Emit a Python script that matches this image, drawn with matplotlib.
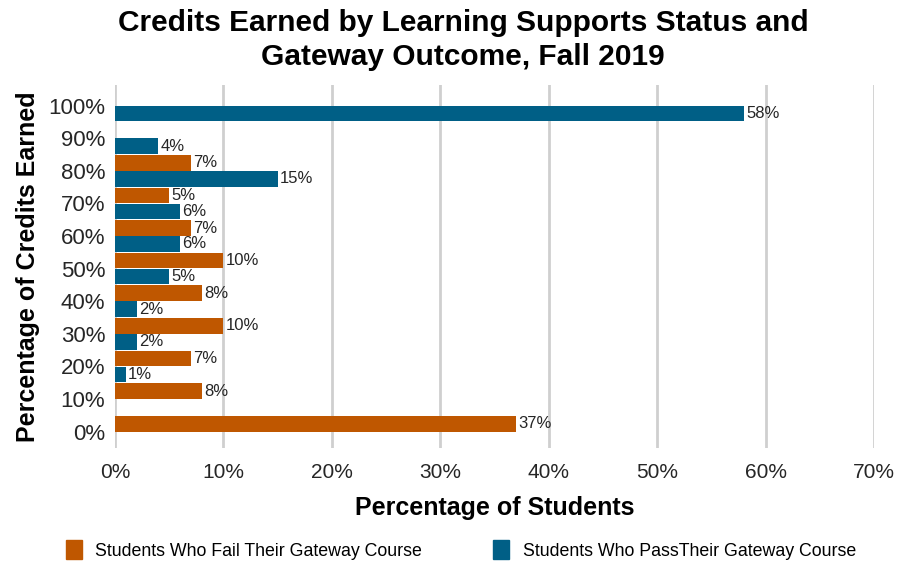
import matplotlib
matplotlib.use("Agg")
import matplotlib.pyplot as plt
import numpy as np
from matplotlib.patches import Patch

categories = ["0%", "10%", "20%", "30%", "40%", "50%", "60%", "70%", "80%", "90%", "100%"]
fail_vals = [37, 8, 7, 10, 8, 10, 7, 5, 7, 0, 0]
pass_vals = [0, 0, 1, 2, 2, 5, 6, 6, 15, 4, 58]
x_ticks = [0, 10, 20, 30, 40, 50, 60, 70]

fail_color = "#BF5700"
pass_color = "#005F86"
text_color = "#262626"
base_font = ["Liberation Sans", "DejaVu Sans"]

fig = plt.figure(figsize=(9.01, 5.65), dpi=100)
ax = fig.add_axes([115 / 901, 1 - 448 / 565, (874 - 115) / 901, (448 - 85) / 565])

y = np.arange(len(categories))
h = 0.48
fail_bars = ax.barh(y + 0.245, fail_vals, height=h, color=fail_color, zorder=3)
pass_bars = ax.barh(y - 0.245, pass_vals, height=h, color=pass_color, zorder=3)

for bars, vals in ((fail_bars, fail_vals), (pass_bars, pass_vals)):
    for b, v in zip(bars, vals):
        if v > 0:
            ax.text(v + 0.2, b.get_y() + b.get_height() / 2, f"{v}%",
                    va="center", ha="left", fontsize=12, family=base_font,
                    color=text_color, zorder=4)

ax.set_xlim(0, 70)
ax.set_ylim(-0.5, 10.63)
ax.set_xticks(x_ticks)
ax.set_xticklabels([f"{t}%" for t in x_ticks], fontsize=15, family=base_font, color=text_color)
ax.set_yticks(y)
ax.set_yticklabels(categories, fontsize=16, family=base_font, color=text_color)
ax.tick_params(axis="both", length=0)
ax.tick_params(axis="x", pad=11)
ax.tick_params(axis="y", pad=7)
ax.grid(axis="x", color="#CFCFCF", linewidth=2, zorder=0)
for s in ax.spines.values():
    s.set_visible(False)

ax.set_xlabel("Percentage of Students", fontsize=18, fontweight="bold", family=base_font, labelpad=10)
ax.set_ylabel("Percentage of Credits Earned", fontsize=18, fontweight="bold", family=base_font, labelpad=6)

fig.text(463 / 901, 1 - 40 / 565, "Credits Earned by Learning Supports Status and\nGateway Outcome, Fall 2019",
         ha="center", va="center", fontsize=21.5, fontweight="bold", family=base_font, linespacing=1.28)

handles = [Patch(color=fail_color, label="Students Who Fail Their Gateway Course"),
           Patch(color=pass_color, label="Students Who PassTheir Gateway Course")]
fig.legend(handles=handles, loc="center", bbox_to_anchor=(461 / 901, 1 - 550 / 565), ncol=2,
           frameon=False, prop={"family": base_font, "size": 12.8}, handlelength=0.9, handleheight=1.2,
           columnspacing=4.0, handletextpad=0.75)

fig.savefig("out.png", dpi=100, facecolor="white")
